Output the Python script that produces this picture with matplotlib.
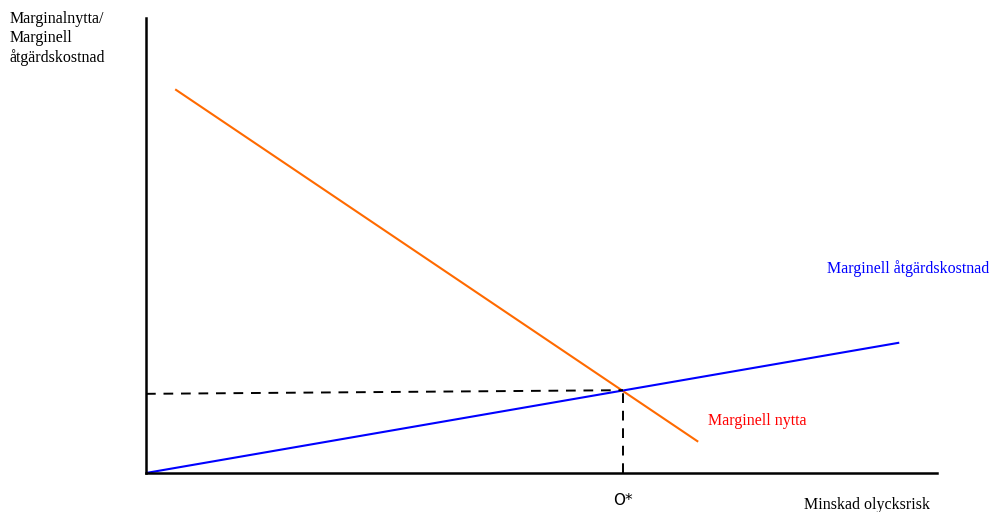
import numpy as np
import matplotlib.pyplot as plt

plt.rcParams.update({'font.family': 'Liberation Serif'})

# data (arbitrary units, x: 0..100, y: 0..100)
nytta_x = [3.8, 69.7]
nytta_y = [84.2, 7.0]
kostnad_x = [0.0, 95.1]
kostnad_y = [0.0, 28.6]
opt_x = 60.3
opt_y = 18.2
dash_y0 = 17.4

fig = plt.figure(figsize=(9.92, 5.12), dpi=100)
ax = fig.add_axes([146/992, 1-473/512, (937-146)/992, (473-18)/512])
ax.set_xlim(0, 100)
ax.set_ylim(0, 100)

ax.plot(nytta_x, nytta_y, color='#FF6A00', lw=1.5)
ax.plot(kostnad_x, kostnad_y, color='#0000FF', lw=1.5)
ax.plot([0, opt_x], [dash_y0, opt_y], color='black', lw=1.4, ls=(0, (5, 4)))
ax.plot([opt_x, opt_x], [0, opt_y], color='black', lw=1.4, ls=(0, (5, 4)))

for s in ['top', 'right']:
    ax.spines[s].set_visible(False)
for s in ['left', 'bottom']:
    ax.spines[s].set_linewidth(1.8)
ax.set_xticks([])
ax.set_yticks([])

fs = 11.5
ax.text(86.1, 45.0, 'Marginell åtgärdskostnad', color='#0000FF', fontsize=fs,
        va='center', ha='left', clip_on=False)
ax.text(71.0, 11.4, 'Marginell nytta', color='#FF0000', fontsize=fs,
        va='center', ha='left')
ax.text(opt_x, -6.0, 'O*', family='DejaVu Sans', fontsize=11, ha='center', va='center',
        clip_on=False)
ax.text(83.2, -7.0, 'Minskad olycksrisk', fontsize=fs, ha='left', va='center',
        clip_on=False)
fig.text(10/992, 1-11/512, 'Marginalnytta/\nMarginell\nåtgärdskostnad', fontsize=fs,
         ha='left', va='top', linespacing=1.25)

fig.savefig('out.png', dpi=100)
